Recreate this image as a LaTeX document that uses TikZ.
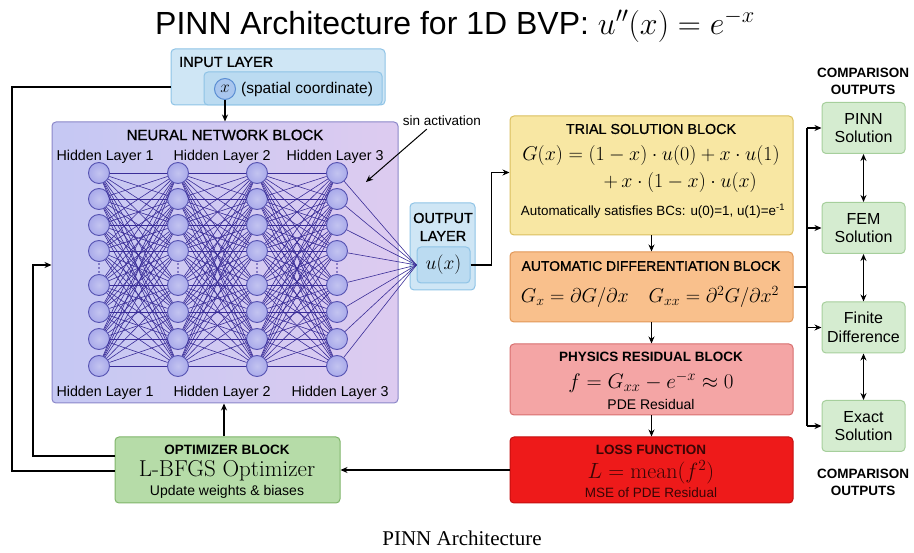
\RequirePackage{fix-cm}
\documentclass[tikz,border=0pt]{standalone}
\usepackage{fontspec}
\setsansfont{Liberation Sans}
\newfontfamily\medsans[FakeBold=0.9]{Liberation Sans}
\newfontfamily\capfont{Liberation Serif}
\usetikzlibrary{arrows.meta,calc}

\definecolor{inFill}{HTML}{CFE6F5}
\definecolor{inDraw}{HTML}{8EC3E6}
\definecolor{inInner}{HTML}{BBDBF1}
\definecolor{xFill}{HTML}{A9C6EE}
\definecolor{xDraw}{HTML}{5B8ED3}
\definecolor{nnLeft}{HTML}{C5C8F3}
\definecolor{nnRight}{HTML}{DDCBF0}
\definecolor{nnDraw}{HTML}{8A86C8}
\definecolor{neuFill}{HTML}{A9AAEA}
\definecolor{neuDraw}{HTML}{5653B2}
\definecolor{edgeCol}{HTML}{3A2D98}
\definecolor{trFill}{HTML}{F8E7A3}
\definecolor{trDraw}{HTML}{DABF5E}
\definecolor{adFill}{HTML}{F9C08C}
\definecolor{adDraw}{HTML}{E19757}
\definecolor{phFill}{HTML}{F4A5A5}
\definecolor{phDraw}{HTML}{D76E6E}
\definecolor{lsFill}{HTML}{EE1A1A}
\definecolor{lsDraw}{HTML}{C40E0E}
\definecolor{lsText}{HTML}{3A0505}
\definecolor{opFill}{HTML}{B6DCA8}
\definecolor{opDraw}{HTML}{7FB56A}
\definecolor{cmFill}{HTML}{D5ECD0}
\definecolor{cmDraw}{HTML}{A6CF9C}

\newcommand\fsz[2]{\fontsize{#1}{#2}\selectfont}

\begin{document}
\begin{tikzpicture}[x=1pt,y=-1pt,
  blk/.style={draw, rounded corners=4pt, line width=1pt, inner sep=0pt},
  txt/.style={inner sep=0pt, font=\sffamily},
  head/.style={inner sep=0pt, font=\medsans},
  arr/.style={-{Stealth[length=7pt,width=6pt]}, line width=1.3pt},
  darr/.style={{Stealth[length=7pt,width=6pt]}-{Stealth[length=7pt,width=6pt]}, line width=1.3pt},
  conn/.style={line width=1.3pt},
  neuron/.style={circle, draw=neuDraw, inner color=neuFill!70!white, outer color=neuFill, line width=0.9pt, minimum size=21pt, inner sep=0pt},
  wire/.style={draw=edgeCol, line width=0.6pt},
  cmpbox/.style={blk, fill=cmFill, draw=cmDraw, minimum width=83pt, minimum height=51pt, align=center, font=\sffamily\fsz{16}{18.5}},
  cmphead/.style={inner sep=0pt, align=center, font=\sffamily\bfseries\fsz{13.5}{17}}
]
\useasboundingbox (0,0) rectangle (914,553);

% heading
\node[txt] (title) at (455,26) {\fsz{32}{35}PINN Architecture for 1D BVP: $u''(x)=e^{-x}$};

% input layer
\node[blk, fill=inFill, draw=inDraw, minimum width=214pt, minimum height=56pt] (inp) at (278,77) {};
\node[blk, fill=inInner, draw=inDraw, minimum width=178pt, minimum height=33pt] (inpin) at (293,88.5) {};
\node[head, anchor=west] (inplab) at (179,62) {\fsz{14.5}{17}INPUT LAYER};
\node[circle, draw=xDraw, fill=xFill, line width=1pt, minimum size=21pt, inner sep=0pt] (xin) at (225,89) {\fsz{17}{19}$x$};
\node[txt, anchor=west] (xlab) at (241,89) {\fsz{15.5}{18}(spatial coordinate)};

% neural network block
\node[blk, left color=nnLeft, right color=nnRight, draw=nnDraw, minimum width=346pt, minimum height=281pt] (nn) at (225,262.5) {};
\node[head] (nnlab) at (225,135) {\fsz{15}{17}NEURAL NETWORK BLOCK};
\foreach \c/\xx in {1/105,2/222,3/335}
  \node[txt] (htop\c) at (\xx,157) {\fsz{14.3}{16}Hidden Layer \c};
\foreach \c/\xx in {1/105,2/222,3/340}
  \node[txt] (hbot\c) at (\xx,393) {\fsz{14.3}{16}Hidden Layer \c};

% neurons, with a column of dots marking the omitted units
\foreach \l/\xx in {1/99,2/178,3/257,4/337} {
  \foreach \i/\yy in {1/173,2/199,3/225,4/251,5/285,6/312,7/339,8/366}
    \node[neuron] (n-\l-\i) at (\xx,\yy) {};
  \foreach \yy in {264,268,272}
    \fill[edgeCol] (\xx,\yy) circle (0.9pt);
}

% output layer
\node[blk, fill=inFill, draw=inDraw, minimum width=65pt, minimum height=87pt] (outl) at (442.5,246.5) {};
\node[head] (outlab1) at (443,218) {\fsz{14.5}{17}OUTPUT};
\node[head] (outlab2) at (443,236) {\fsz{14.5}{17}LAYER};
\node[blk, fill=inInner, draw=inDraw, minimum width=53pt, minimum height=36pt] (outin) at (443.5,265) {\fsz{19.5}{22}$u(x)$};

% fully connected wiring
\foreach \l [evaluate=\l as \m using int(\l+1)] in {1,2,3}
  \foreach \i in {1,...,8}
    \foreach \j in {1,...,8}
      \draw[wire] (n-\l-\i) -- (n-\m-\j);
\foreach \i in {1,...,8}
  \draw[wire] (n-4-\i) -- (outin.west);

% activation note
\node[txt] (sinlab) at (442,121) {\fsz{13.5}{16}sin activation};
\coordinate (sintip) at (366,182);
\draw[arr, line width=1pt] ($(sinlab.south west)+(24,3)$) -- (sintip);

% trial solution block
\node[blk, fill=trFill, draw=trDraw, minimum width=283pt, minimum height=119pt] (trial) at (651.5,175.5) {};
\node[head] (trlab) at (651,129) {\fsz{14.3}{16}TRIAL SOLUTION BLOCK};
\node[inner sep=0pt] (treq1) at (651,156) {\fsz{20}{22}$G(x)=(1-x)\cdot u(0)+x\cdot u(1)$};
\node[inner sep=0pt, anchor=east] (treq2) at (757,183) {\fsz{20}{22}$+\,x\cdot(1-x)\cdot u(x)$};
\node[txt] (trnote) at (653,211) {\fsz{13.4}{15}Automatically satisfies BCs: u(0)=1, u(1)=e\textsuperscript{-1}};

% automatic differentiation block
\node[blk, fill=adFill, draw=adDraw, minimum width=283pt, minimum height=70pt] (ad) at (651.5,287) {};
\node[head] (adlab) at (651,266) {\fsz{13.9}{16}AUTOMATIC DIFFERENTIATION BLOCK};
\node[inner sep=0pt] (adeq) at (650,297) {\fsz{20}{22}$G_x=\partial G/\partial x\hspace{1em}G_{xx}=\partial^2G/\partial x^2$};

% physics residual block
\node[blk, fill=phFill, draw=phDraw, minimum width=283pt, minimum height=71pt] (phys) at (651.5,379.5) {};
\node[txt] (phlab) at (651,357) {\fsz{13.5}{16}\bfseries PHYSICS RESIDUAL BLOCK};
\node[inner sep=0pt] (pheq) at (651,382) {\fsz{21}{22}$f=G_{xx}-e^{-x}\approx 0$};
\node[txt] (phnote) at (651,404) {\fsz{14}{16}PDE Residual};

% loss function block
\node[blk, fill=lsFill, draw=lsDraw, minimum width=283pt, minimum height=66pt] (loss) at (651.5,470) {};
\node[txt, text=lsText] (lslab) at (651,450) {\fsz{13.5}{16}\bfseries LOSS FUNCTION};
\node[inner sep=0pt, text=lsText] (lseq) at (651,472) {\fsz{22}{24}$L=\mathrm{mean}(f^2)$};
\node[txt, text=lsText] (lsnote) at (651,493) {\fsz{13.5}{15}MSE of PDE Residual};

% optimizer block
\node[blk, fill=opFill, draw=opDraw, minimum width=225pt, minimum height=66pt] (opt) at (227.5,470) {};
\node[txt] (oplab) at (227,450) {\fsz{13.5}{16}\bfseries OPTIMIZER BLOCK};
\node[inner sep=0pt] (opname) at (227,471) {\rmfamily\fsz{23}{25}L-BFGS Optimizer};
\node[txt] (opnote) at (227,492) {\fsz{14}{16}Update weights \& biases};

% comparison outputs
\node[cmphead] (cmtop) at (863,81) {COMPARISON\\OUTPUTS};
\node[cmpbox] (pinn) at (863.5,128) {PINN\\Solution};
\node[cmpbox] (fem) at (863.5,228) {FEM\\Solution};
\node[cmpbox] (fd) at (863.5,327.5) {Finite\\Difference};
\node[cmpbox] (exact) at (863.5,426) {Exact\\Solution};
\node[cmphead] (cmbot) at (863,482) {COMPARISON\\OUTPUTS};

% data flow
\draw[arr] (xin.south) -- (xin.south |- nn.north);
\draw[arr] (outin.east) -| ($(trial.west)+(-18,-3)$) -- ($(trial.west)+(0,-3)$);
\draw[arr] (trial.south) -- (ad.north);
\draw[arr] (ad.south) -- (phys.north);
\draw[arr] (phys.south) -- (loss.north);
\draw[arr] (loss.west) -- (opt.east);
\draw[arr] (opt.north -| 224,0) -- (nn.south -| 224,0);

% feedback lines on the left
\draw[conn] (inp.west |- 0,87) -| (12,471) -- (opt.west |- 0,471);
\draw[arr] (opt.west |- 0,456) -| (33,265) -- (nn.west |- 0,265);

% comparison fan-out
\coordinate (trunk) at (ad.east -| 807,0);
\draw[conn] (ad.east) -- (trunk);
\draw[conn] (trunk |- pinn.west) -- (trunk |- exact.west);
\foreach \b in {pinn,fem,fd,exact}
  \draw[arr] (trunk |- \b.west) -- (\b.west);
\draw[darr] (pinn.south) -- (fem.north);
\draw[darr] (fem.south) -- (fd.north);
\draw[darr] (fd.south) -- (exact.north);

% caption
\node[inner sep=0pt] (cap) at (462,538) {\capfont\fsz{21}{24}PINN Architecture};
\end{tikzpicture}
\end{document}
